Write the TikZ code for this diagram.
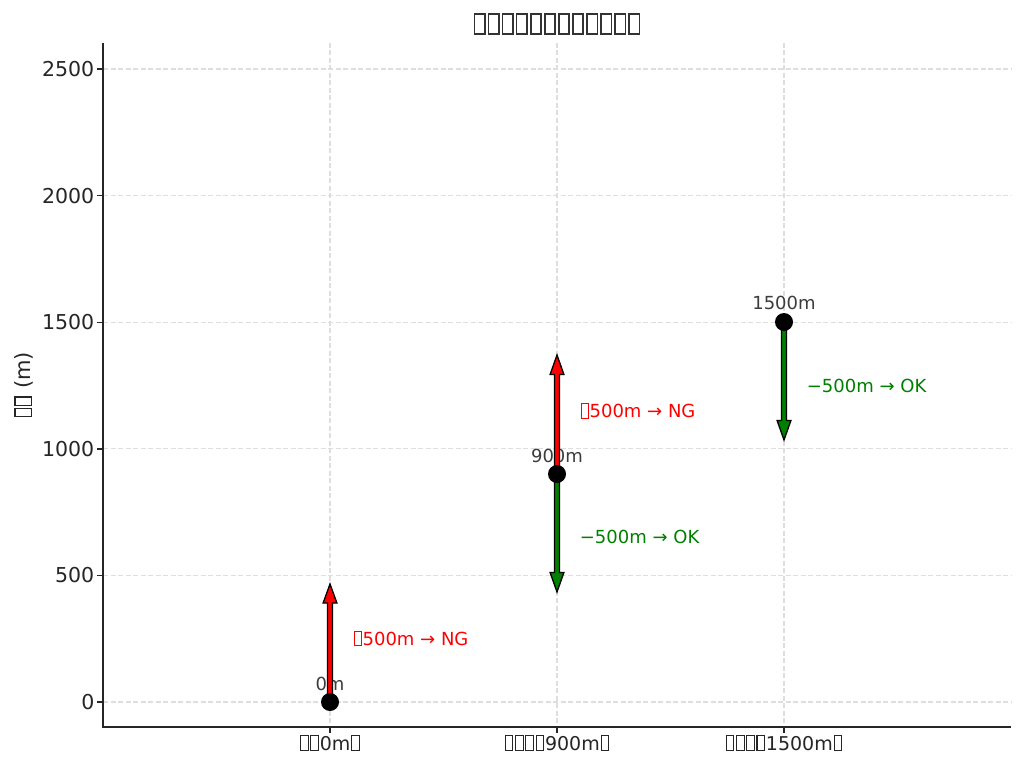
\documentclass[tikz,border=0pt]{standalone}
\usepackage{fontspec}
\setmainfont{DejaVu Sans}
\usetikzlibrary{calc}
\definecolor{txt}{RGB}{38,38,38}
\definecolor{ttl}{RGB}{51,51,51}
\definecolor{lbl}{RGB}{60,60,60}
\definecolor{gridc}{RGB}{222,222,222}
\definecolor{okgreen}{RGB}{0,128,0}
\definecolor{ngred}{RGB}{255,0,0}
\newcommand{\tofu}{\kern0.04em\raisebox{-0.06em}{\vrule width0.06em\vbox{\hrule height0.06em width0.34em\vskip0.73em\hrule height0.06em}\vrule width0.06em}\kern0.04em}
\newcommand{\fsz}[1]{\fontsize{#1}{#1}\selectfont}
\newcommand{\fatarrow}[4]{\begin{scope}[shift={(#1)}]\draw[arrowbody,fill=#4] (-2.5,0) -- (-2.5,#3) -- (-6.9,#3) -- (0,#2) -- (6.9,#3) -- (2.5,#3) -- (2.5,0) -- cycle;\end{scope}}
\tikzset{
  gridline/.style={draw=gridc, line width=1.1pt, dash pattern=on 5pt off 2.5pt},
  spine/.style={draw=txt, line width=1.4pt},
  ticklbl/.style={text=txt, inner sep=0pt, font=\fsz{20.5}},
  xticklbl/.style={text=txt, inner sep=0pt, font=\fsz{19}, anchor=base},
  vallbl/.style={text=lbl, inner sep=0pt, font=\fsz{18}},
  annot/.style={inner sep=0pt, anchor=west, font=\fsz{18}},
  dot/.style={circle, fill=black, inner sep=0pt, minimum size=18pt},
  arrowbody/.style={draw=black, line width=1.3pt, line join=miter},
}
\begin{document}
\begin{tikzpicture}[x=1pt,y=-1pt]
\useasboundingbox (0,0) rectangle (1024,765);
\fill[white] (0,0) rectangle (1024,765);
% grid
\foreach \yy in {702,575.4,448.8,322.2,195.6,69} \draw[gridline] (103,\yy) -- (1011,\yy);
\foreach \xx in {330,557,784} \draw[gridline] (\xx,43) -- (\xx,727);
% spines and ticks
\draw[spine] (103,43) -- (103,727) -- (1011,727);
\foreach \yy/\vv in {702/0,575.4/500,448.8/1000,322.2/1500,195.6/2000,69/2500} {
  \draw[spine] (97,\yy) -- (103,\yy);
  \node[ticklbl, anchor=east] at (94.5,\yy) {\vv};
}
\foreach \xx in {330,557,784} \draw[spine] (\xx,727) -- (\xx,733);
\node[xticklbl] (xt0) at (330,750) {\tofu\tofu 0m\tofu};
\node[xticklbl] (xt1) at (557,750) {\tofu\tofu\tofu\tofu 900m\tofu};
\node[xticklbl] (xt2) at (784,750) {\tofu\tofu\tofu\tofu 1500m\tofu};
% axis label and title
\node[text=txt, rotate=90, font=\fsz{21}, inner sep=0pt] (ylab) at (24,385) {\tofu\tofu{} (m)};
\node[text=ttl, font=\fsz{26}, inner sep=0pt] (title) at (557,24) {\tofu\tofu\tofu\tofu\tofu\tofu\tofu\tofu\tofu\tofu\tofu\tofu};
% value labels
\node[vallbl] (l0) at (330,684) {0m};
\node[vallbl] (l1) at (557,456) {900m};
\node[vallbl] (l2) at (784,303) {1500m};
% points (placed, drawn later on top)
\path (330,702) coordinate (c0) (557,474) coordinate (c1) (784,322) coordinate (c2);
% arrows
\fatarrow{c0}{-118}{-99}{ngred}
\fatarrow{c1}{-119}{-99.5}{ngred}
\fatarrow{c1}{118}{98.5}{okgreen}
\fatarrow{c2}{118}{98.5}{okgreen}
% dots
\node[dot] (p0) at (c0) {};
\node[dot] (p1) at (c1) {};
\node[dot] (p2) at (c2) {};
% annotations
\node[annot, text=ngred] (a0) at (352.7,638.7) {\tofu 500m → NG};
\node[annot, text=ngred] (a1) at (579.7,411) {\tofu 500m → NG};
\node[annot, text=okgreen] (a2) at (579.7,537) {−500m → OK};
\node[annot, text=okgreen] (a3) at (806.7,385.5) {−500m → OK};
\end{tikzpicture}
\end{document}
